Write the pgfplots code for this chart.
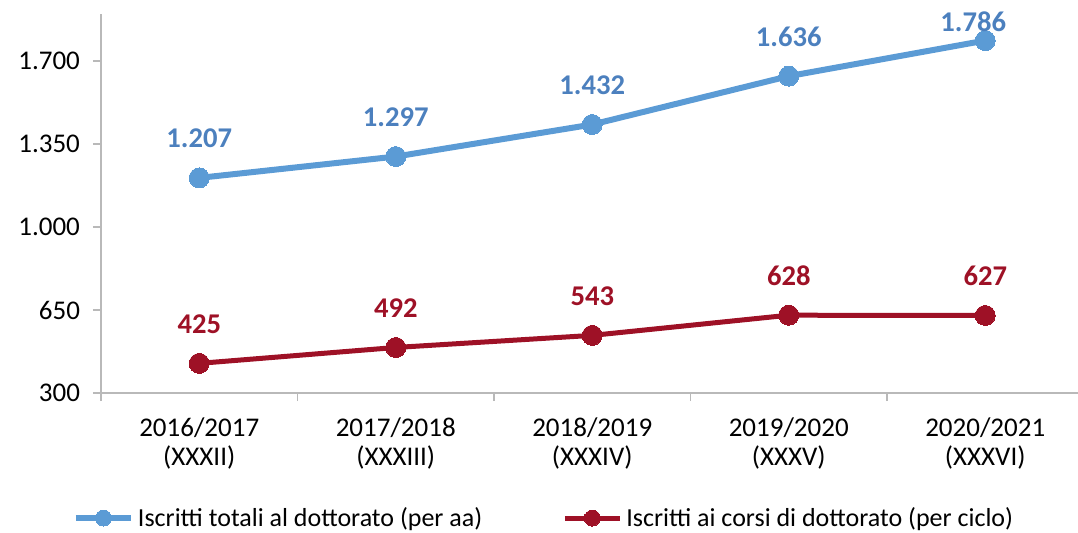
\documentclass[border=0pt]{standalone}
\usepackage{pgfplots}
\pgfplotsset{compat=1.18}
\usepackage{fontspec}
\setmainfont{Carlito}

\definecolor{totblue}{RGB}{91,155,213}
\definecolor{totlabel}{RGB}{76,128,190}
\definecolor{cicred}{RGB}{158,17,38}
\definecolor{axisgray}{RGB}{185,185,185}

\begin{document}
\begin{tikzpicture}
\path[use as bounding box] (-50.5pt,-69.5pt) rectangle (488.5pt,196.5pt);
\begin{axis}[%
at={(0,0)},
anchor=south west,
width=491.25pt,
height=189.5pt,
scale only axis,
xmin=-0.5,
xmax=4.5,
ymin=300,
ymax=1898,
axis x line*=bottom,
axis y line*=left,
axis line style={draw=axisgray, line width=0.9pt},
every tick/.style={draw=axisgray, line width=0.9pt},
tick align=outside,
major tick length=4pt,
ytick={300,650,1000,1350,1700},
xtick={0,1,2,3,4},
xticklabels={{2016/2017\\(XXXII)},{2017/2018\\(XXXIII)},{2018/2019\\(XXXIV)},{2019/2020\\(XXXV)},{2020/2021\\(XXXVI)}},
major x tick style={draw=none},
extra x ticks={-0.5,0.5,1.5,2.5,3.5,4.5},
extra x tick labels={,,,,,},
extra x tick style={major x tick style={draw=axisgray}},
xticklabel style={align=center, font=\fontsize{13.5pt}{14.5pt}\selectfont, yshift=-5pt},
yticklabel style={font=\fontsize{13.5pt}{15pt}\selectfont, xshift=-3pt},
/pgf/number format/.cd, fixed, precision=0, 1000 sep={.}, assume math mode=true,
/pgfplots/.cd,
nodes near coords,
every node near coord/.append style={font=\fontsize{14.3pt}{16pt}\bfseries, anchor=base, yshift=15pt},
legend style={at={(0.452,-0.33)}, anchor=center, draw=none, fill=none,
  legend columns=2, font=\fontsize{13pt}{15pt}\selectfont,
  /tikz/every even column/.append style={column sep=38pt},
  /tikz/every odd column/.append style={}},
legend cell align=left,
legend image code/.code={\draw[mark repeat=2,mark phase=2,#1,mark size=4pt] plot coordinates {(0pt,0pt) (13.75pt,0pt) (27.5pt,0pt)};},
clip=false
]
\addplot[color=totblue, line width=3pt, mark=*, mark size=5pt, mark options={solid, fill=totblue, draw=totblue, line width=0pt},
  every node near coord/.append style={text=totlabel},
  coordinate style/.condition={x>3.5}{yshift=-10.5pt, xshift=-6pt}] coordinates {
(0,1207) (1,1297) (2,1432) (3,1636) (4,1786)
};
\addlegendentry{Iscritti totali al dottorato (per aa)}

\addplot[color=cicred, line width=2.5pt, mark=*, mark size=5pt, mark options={solid, fill=cicred, draw=cicred, line width=0pt},
  every node near coord/.append style={text=cicred}] coordinates {
(0,425) (1,492) (2,543) (3,628) (4,627)
};
\addlegendentry{Iscritti ai corsi di dottorato (per ciclo)}

\end{axis}
\end{tikzpicture}
\end{document}
